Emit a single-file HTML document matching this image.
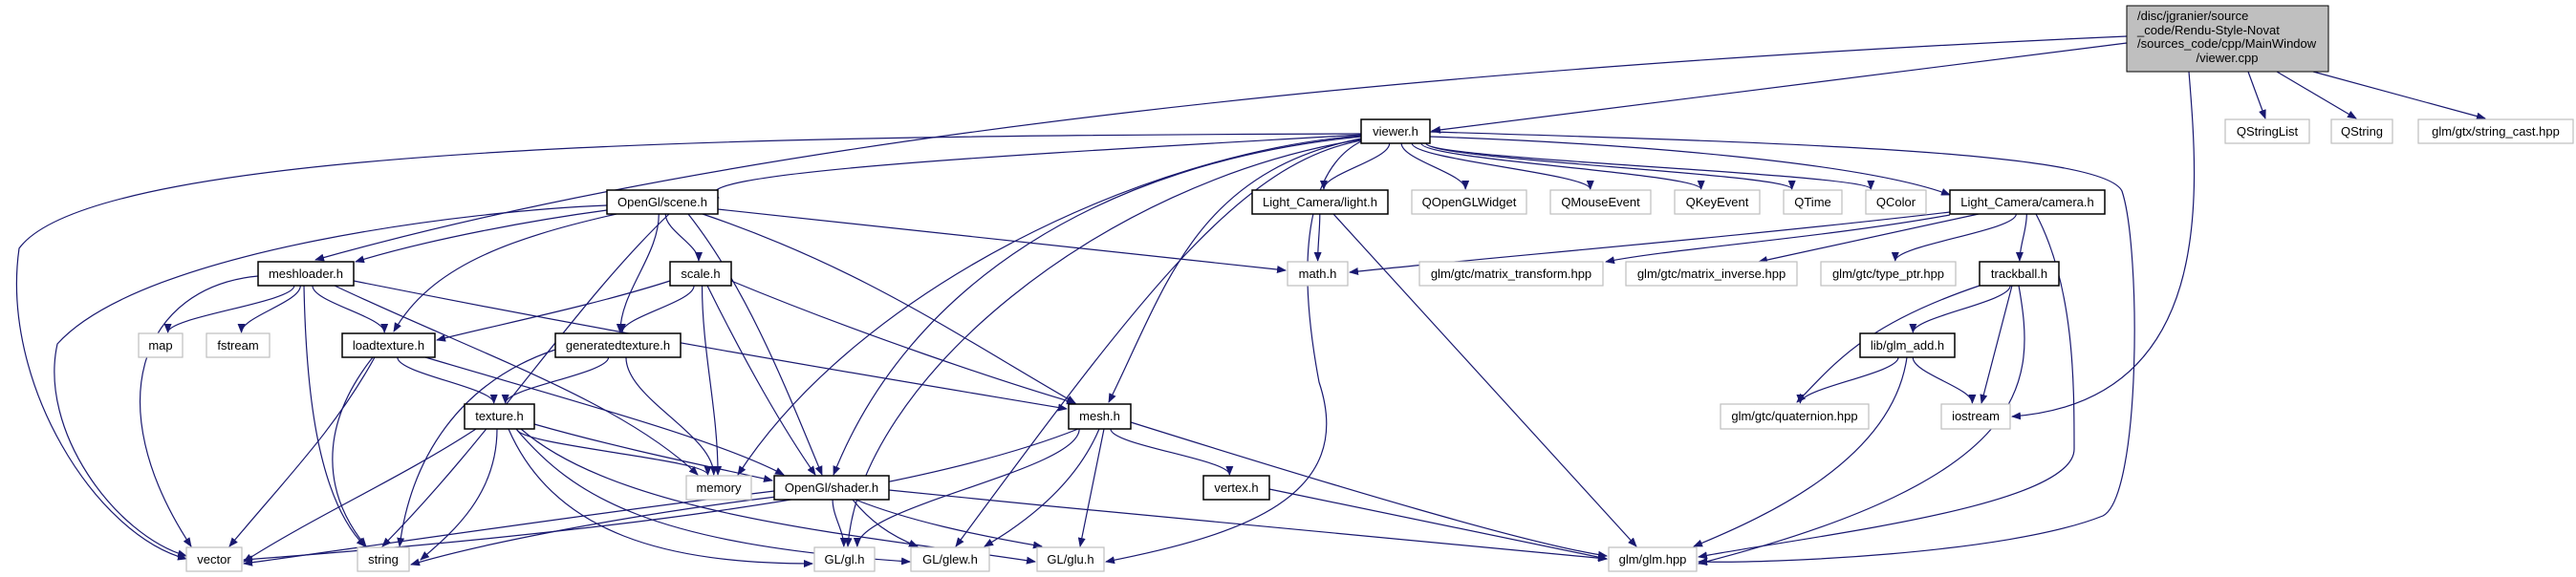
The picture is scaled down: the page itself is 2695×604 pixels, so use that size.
<!DOCTYPE html>
<html><head><meta charset="utf-8"><style>
html,body{margin:0;padding:0;background:#fff;}
svg{display:block;}
text{font-family:"Liberation Sans",Arial,sans-serif;font-size:13px;fill:#000;}
</style></head><body>
<svg id="g" width="2695" height="604" viewBox="0 0 2695 604" xmlns="http://www.w3.org/2000/svg">
<defs><marker id="ah" markerWidth="10" markerHeight="8" refX="9" refY="4" orient="auto" markerUnits="userSpaceOnUse"><path d="M0,0 L10,4 L0,8 Z" fill="#191970"/></marker></defs>
<g id="edges" fill="none" stroke="#191970" stroke-width="1.2"></g>
<rect x="2225" y="6" width="211" height="69" fill="#bfbfbf" stroke="#000" stroke-width="1"/>
<text x="2236" y="21">/disc/jgranier/source</text>
<text x="2236" y="36">_code/Rendu-Style-Novat</text>
<text x="2236" y="50">/sources_code/cpp/MainWindow</text>
<text x="2330" y="65" text-anchor="middle">/viewer.cpp</text>
<g id="nodes"></g>
</svg>
<div style="display:none">
viewer.h QStringList QString glm/gtx/string_cast.hpp OpenGl/scene.h Light_Camera/light.h QOpenGLWidget QMouseEvent QKeyEvent QTime QColor Light_Camera/camera.h meshloader.h scale.h math.h glm/gtc/matrix_transform.hpp glm/gtc/matrix_inverse.hpp glm/gtc/type_ptr.hpp trackball.h map fstream loadtexture.h generatedtexture.h lib/glm_add.h texture.h mesh.h glm/gtc/quaternion.hpp iostream memory OpenGl/shader.h vertex.h vector string GL/gl.h GL/glew.h GL/glu.h glm/glm.hpp
</div>
<script>
var N={
viewer:[1424,125,1496,150,0,'viewer.h'],
QStringList:[2328,125,2416,150,1,'QStringList'],QString:[2439,125,2503,150,1,'QString'],scast:[2530,125,2692,150,1,'glm/gtx/string_cast.hpp'],
scene:[635,199,751,224,0,'OpenGl/scene.h'],light:[1310,199,1452,224,0,'Light_Camera/light.h'],QOpenGLWidget:[1477,199,1597,224,1,'QOpenGLWidget'],
QMouseEvent:[1622,199,1727,224,1,'QMouseEvent'],QKeyEvent:[1752,199,1841,224,1,'QKeyEvent'],QTime:[1866,199,1927,224,1,'QTime'],QColor:[1952,199,2015,224,1,'QColor'],
camera:[2040,199,2202,224,0,'Light_Camera/camera.h'],
meshloader:[270,274,370,299,0,'meshloader.h'],scale:[701,274,765,299,0,'scale.h'],math:[1347,274,1410,299,1,'math.h'],
mtrans:[1485,274,1677,299,1,'glm/gtc/matrix_transform.hpp'],minv:[1701,274,1880,299,1,'glm/gtc/matrix_inverse.hpp'],typeptr:[1905,274,2046,299,1,'glm/gtc/type_ptr.hpp'],trackball:[2071,274,2154,299,0,'trackball.h'],
map:[145,349,191,374,1,'map'],fstream:[216,349,282,374,1,'fstream'],loadtexture:[358,349,455,374,0,'loadtexture.h'],gentex:[581,349,712,374,0,'generatedtexture.h'],glmadd:[1946,349,2045,374,0,'lib/glm_add.h'],
texture:[486,423,559,449,0,'texture.h'],mesh:[1118,423,1183,449,0,'mesh.h'],quat:[1800,423,1955,449,1,'glm/gtc/quaternion.hpp'],iostream:[2031,423,2103,449,1,'iostream'],
memory:[718,498,786,523,1,'memory'],shader:[810,498,930,523,0,'OpenGl/shader.h'],vertex:[1259,498,1328,523,0,'vertex.h'],
vector:[195,573,253,598,1,'vector'],string:[374,573,428,598,1,'string'],gl:[852,573,915,598,1,'GL/gl.h'],glew:[953,573,1035,598,1,'GL/glew.h'],glu:[1085,573,1155,598,1,'GL/glu.h'],glm:[1683,573,1775,598,1,'glm/glm.hpp']
};
var ns="http://www.w3.org/2000/svg",G=document.getElementById('nodes'),E=document.getElementById('edges');
for(var k in N){var n=N[k];var r=document.createElementNS(ns,'rect');r.setAttribute('x',n[0]);r.setAttribute('y',n[1]);r.setAttribute('width',n[2]-n[0]);r.setAttribute('height',n[3]-n[1]);r.setAttribute('fill','#fff');r.setAttribute('stroke',n[4]?'#bfbfbf':'#000');r.setAttribute('stroke-width',n[4]?1.2:1.5);G.appendChild(r);
var t=document.createElementNS(ns,'text');t.setAttribute('x',(n[0]+n[2])/2);t.setAttribute('y',n[1]+17);t.setAttribute('text-anchor','middle');t.textContent=n[5];G.appendChild(t);}
function P(d){var p=document.createElementNS(ns,'path');p.setAttribute('d',d);p.setAttribute('marker-end','url(#ah)');E.appendChild(p);}
function e(a,b){var A=N[a],B=N[b];var sx=(A[0]+A[2])/2,tx=(B[0]+B[2])/2;
var x1=Math.max(A[0]+4,Math.min(A[2]-4,sx+(tx-sx)*0.08)),y1=A[3];
var x2=Math.max(B[0]+4,Math.min(B[2]-4,tx+(sx-tx)*0.05)),y2=B[1];
if(Math.abs(y2-y1)<5){P('M'+x1+','+y1+' L'+x2+','+y2);return;}
var dy=y2-y1;P('M'+x1+','+y1+' C'+x1+','+(y1+dy*0.35)+' '+x2+','+(y2-dy*0.35)+' '+x2+','+(y2-1));}
// main
P('M2225,45 L1498,137');
P('M2225,38 C1500,70 800,140 330,272');
P('M2290,75 C2300,200 2320,420 2105,436');
P('M2352,75 L2370,124');P('M2382,75 L2465,124');P('M2420,75 L2600,124');
// viewer
P('M1424,140 C800,142 100,150 20,260 C0,400 100,560 195,585');
P('M1424,141 C1100,160 700,180 752,207');
[['viewer','light'],['viewer','QOpenGLWidget'],['viewer','QMouseEvent'],['viewer','QKeyEvent'],['viewer','QTime'],['viewer','QColor']].forEach(function(x){e(x[0],x[1]);});
P('M1496,143 C1700,150 1950,170 2040,204');
P('M1496,138 C1900,150 2200,160 2220,200 C2240,260 2240,520 2200,540 C2100,580 1850,590 1777,588');
P('M1424,142 C1200,160 900,300 772,497');
P('M1424,143 C1150,170 950,300 872,497');
P('M1424,145 C1250,180 1220,300 1160,421');
P('M1424,146 C1150,190 900,400 887,572');
P('M1424,147 C1300,170 1200,300 1000,572');
P('M1424,148 C1380,170 1350,240 1380,400 C1420,520 1300,560 1157,588');
// scene
P('M635,215 C500,220 150,260 60,360 C40,450 120,560 195,582');
P('M635,220 C560,230 450,250 372,274');
P('M645,224 C530,250 450,280 412,347');
e('scene','scale');e('scene','gentex');
P('M700,224 C600,320 520,450 400,572');
P('M720,224 C780,300 820,400 860,497');
P('M735,224 C900,280 1000,350 1125,422');
P('M751,219 L1345,283');
// meshloader
e('meshloader','map');e('meshloader','fstream');e('meshloader','loadtexture');
P('M270,289 C150,300 100,420 200,572');
P('M318,299 C320,400 330,520 382,572');
P('M350,299 C500,370 650,420 730,497');
P('M370,294 C700,360 950,400 1116,428');
// scale
P('M701,294 C620,320 520,340 457,356');
e('scale','gentex');e('scale','memory');
P('M740,299 C780,380 820,450 853,497');
P('M765,294 C900,350 1050,400 1125,422');
// loadtexture
e('loadtexture','texture');
P('M392,374 C350,450 300,500 240,572');
P('M390,374 C330,450 340,520 383,572');
P('M445,374 C600,420 750,460 820,497');
// gentex
e('gentex','texture');e('gentex','memory');
P('M581,366 C480,400 430,480 418,572');
// texture
P('M498,449 C420,500 330,540 255,588');
P('M520,449 C520,520 470,560 440,586');
e('texture','memory');
P('M559,444 C650,470 750,490 808,503');
P('M532,449 C580,560 700,590 850,590');
P('M540,449 C600,520 680,570 952,588');
P('M545,449 C650,540 900,560 1083,588');
// shader
P('M810,514 C600,540 400,570 255,590');
P('M812,520 C650,540 500,570 430,591');
e('shader','gl');
P('M892,523 C910,545 930,560 960,572');
P('M895,523 C950,545 1020,560 1090,572');
P('M930,513 C1200,540 1500,570 1681,585');
// mesh
P('M1128,449 C950,520 600,560 255,586');
e('mesh','gl');
P('M1150,449 C1120,520 1050,560 1030,572');
P('M1155,449 L1130,572');
e('mesh','vertex');
P('M1183,442 C1400,510 1600,570 1681,582');
// vertex
P('M1328,512 L1681,585');
// light
e('light','math');
P('M1395,224 L1712,572');
// camera
P('M2040,222 C1800,250 1550,270 1412,285');
P('M2040,225 C1900,250 1750,260 1680,274');
P('M2070,224 L1840,274');
e('camera','typeptr');e('camera','trackball');
P('M2130,224 C2170,300 2170,400 2170,470 C2170,530 1900,560 1777,583');
// trackball
P('M2071,299 C1950,340 1920,380 1880,421');
e('trackball','glmadd');
P('M2105,299 L2073,422');
P('M2112,299 C2130,400 2130,500 1777,590');
// glmadd
e('glmadd','quat');e('glmadd','iostream');
P('M1995,374 C1980,480 1850,540 1772,572');
</script>
</body></html>
